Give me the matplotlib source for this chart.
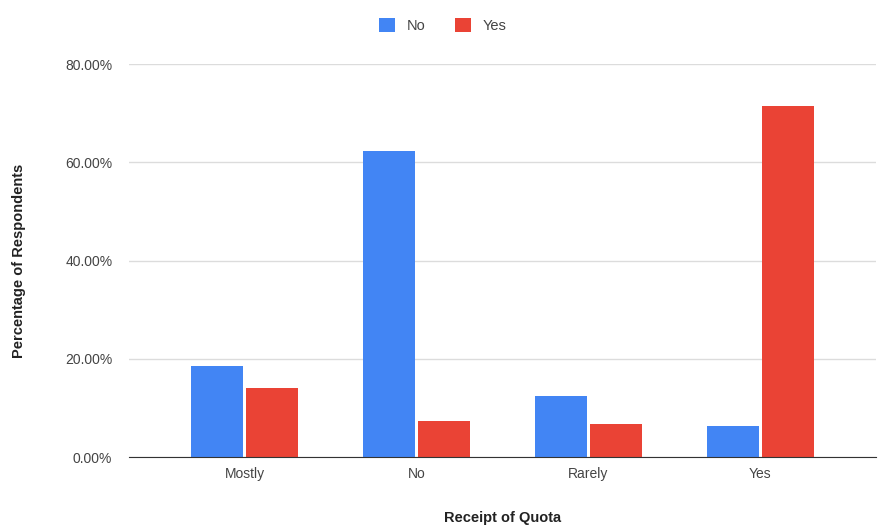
import numpy as np
import matplotlib.pyplot as plt
from matplotlib.ticker import PercentFormatter

plt.rcParams['font.family'] = ['Liberation Sans', 'DejaVu Sans']

# 配额领取情况 vs 回答比例
categories = ["Mostly", "No", "Rarely", "Yes"]
series_names = ["No", "Yes"]
pct_no = [0.185, 0.623, 0.124, 0.063]
pct_yes = [0.140, 0.073, 0.067, 0.715]
colors = ["#4285F4", "#EA4335"]

fig = plt.figure(figsize=(8.8, 5.29), dpi=100)
ax = fig.add_axes([0.1466, 0.1361, 0.8489, 0.7429])

x = np.arange(len(categories))
w = 0.305
offset = 0.16
b1 = ax.bar(x - offset, pct_no, width=w, color=colors[0], label=series_names[0], zorder=3)
b2 = ax.bar(x + offset, pct_yes, width=w, color=colors[1], label=series_names[1], zorder=3)

ax.set_xlim(-0.672, 3.672)
ax.set_ylim(0, 0.8)
ax.set_yticks([0, 0.2, 0.4, 0.6, 0.8])
ax.yaxis.set_major_formatter(PercentFormatter(1.0, decimals=2))
ax.set_xticks(x)
ax.set_xticklabels(categories)

ax.grid(axis="y", color="#dcdcdc", linewidth=1, zorder=0)
for s in ["top", "right", "left"]:
    ax.spines[s].set_visible(False)
ax.spines["bottom"].set_color("#333333")
ax.spines["bottom"].set_zorder(4)
ax.tick_params(axis="both", length=0, labelsize=10, colors="#444444")
ax.tick_params(axis="y", pad=12)
ax.tick_params(axis="x", pad=7)

ax.set_xlabel("Receipt of Quota", fontsize=10.5, fontweight="bold", color="#222222", labelpad=22)
ax.set_ylabel("Percentage of Respondents", fontsize=10.5, fontweight="bold", color="#222222", labelpad=28)

fig.legend(handles=[b1, b2], loc="center", bbox_to_anchor=(0.503, 0.952), ncol=2, frameon=False,
           fontsize=10.5, handlelength=1.1, handleheight=1.1, columnspacing=2.0, handletextpad=0.8,
           labelcolor="#444444")

fig.savefig("out.png", dpi=100)
